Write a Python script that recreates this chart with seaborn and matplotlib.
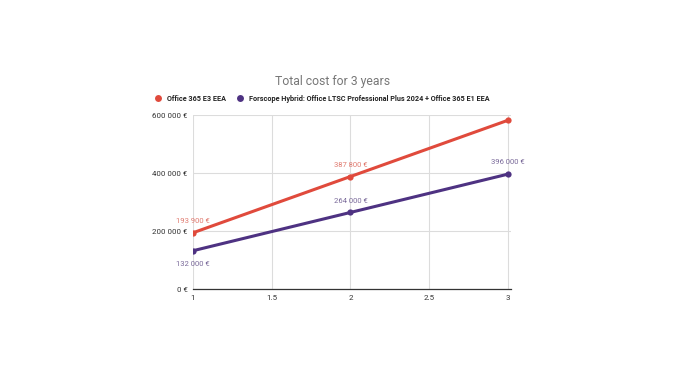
import matplotlib
matplotlib.use("Agg")
import matplotlib.pyplot as plt
import seaborn as sns
import pandas as pd
from matplotlib.ticker import FuncFormatter
from matplotlib.lines import Line2D

years = [1, 2, 3]
e3_cost = [193900, 387800, 581700]
hybrid_cost = [132000, 264000, 396000]
series_names = ["Office 365 E3 EEA",
                "Forscope Hybrid: Office LTSC Professional Plus 2024 + Office 365 E1 EEA"]
x_ticks = [1, 1.5, 2, 2.5, 3]
x_tick_labels = ["1", "1.5", "2", "2.5", "3"]
y_ticks = [0, 200000, 400000, 600000]
title = "Total cost for 3 years"

red = "#e04a3c"
purple = "#4e3282"

df = pd.DataFrame({
    "year": years * 2,
    "cost": e3_cost + hybrid_cost,
    "series": [series_names[0]] * 3 + [series_names[1]] * 3,
})

sns.set_theme(style="white")
plt.rcParams["font.family"] = ["Roboto", "DejaVu Sans"]

fig = plt.figure(figsize=(6.78, 3.81), dpi=100)
ax = fig.add_axes([193 / 678, 1 - 289 / 381, (511 - 193) / 678, (289 - 115) / 381])

sns.lineplot(data=df, x="year", y="cost", hue="series",
             palette=[red, purple], marker="o", markersize=4.5,
             markeredgewidth=0, linewidth=2.2, ax=ax, legend=False)

ax.set_xlim(1, 3.02)
ax.set_ylim(0, 600000)
ax.set_xticks(x_ticks)
ax.set_xticklabels(x_tick_labels)
ax.set_yticks(y_ticks)


def fmt(v):
    return f"{int(v):,} €".replace(",", " ")


ax.yaxis.set_major_formatter(FuncFormatter(lambda v, p: fmt(v)))
ax.tick_params(axis="both", labelsize=5.7, colors="#333333", length=0, pad=4)
ax.grid(True, color="#dcdcdc", linewidth=0.8)
ax.set_axisbelow(True)
for s in ["top", "right", "left"]:
    ax.spines[s].set_visible(False)
ax.spines["bottom"].set_color("#333333")
ax.spines["bottom"].set_linewidth(0.9)
ax.set_xlabel("")
ax.set_ylabel("")

lbl_red = "#e07a6f"
lbl_pur = "#7a6a9a"
fs = 5.5
ax.annotate(fmt(e3_cost[0]), (years[0], e3_cost[0]), xytext=(0, 7), textcoords="offset points",
            ha="center", fontsize=fs, color=lbl_red)
ax.annotate(fmt(e3_cost[1]), (years[1], e3_cost[1]), xytext=(0, 7), textcoords="offset points",
            ha="center", fontsize=fs, color=lbl_red)
ax.annotate(fmt(hybrid_cost[0]), (years[0], hybrid_cost[0]), xytext=(0, -11), textcoords="offset points",
            ha="center", fontsize=fs, color=lbl_pur)
ax.annotate(fmt(hybrid_cost[1]), (years[1], hybrid_cost[1]), xytext=(0, 7), textcoords="offset points",
            ha="center", fontsize=fs, color=lbl_pur)
ax.annotate(fmt(hybrid_cost[2]), (years[2], hybrid_cost[2]), xytext=(0, 7), textcoords="offset points",
            ha="center", fontsize=fs, color=lbl_pur)

fig.text(333 / 678, 1 - 82 / 381, title, ha="center", va="center", fontsize=8.8, color="#777777")

handles = [Line2D([], [], marker="o", color="w", markerfacecolor=red, markersize=6, linewidth=0),
           Line2D([], [], marker="o", color="w", markerfacecolor=purple, markersize=6, linewidth=0)]
leg = fig.legend(handles, series_names, loc="center left", bbox_to_anchor=(154 / 678, 1 - 99 / 381),
                 ncol=2, frameon=False, fontsize=5.2, handletextpad=0.6, columnspacing=1.4,
                 handlelength=1.2, borderaxespad=0, borderpad=0)
for t in leg.get_texts():
    t.set_fontweight("bold")
    t.set_color("#222222")

fig.savefig("out.png", dpi=100, facecolor="white")
